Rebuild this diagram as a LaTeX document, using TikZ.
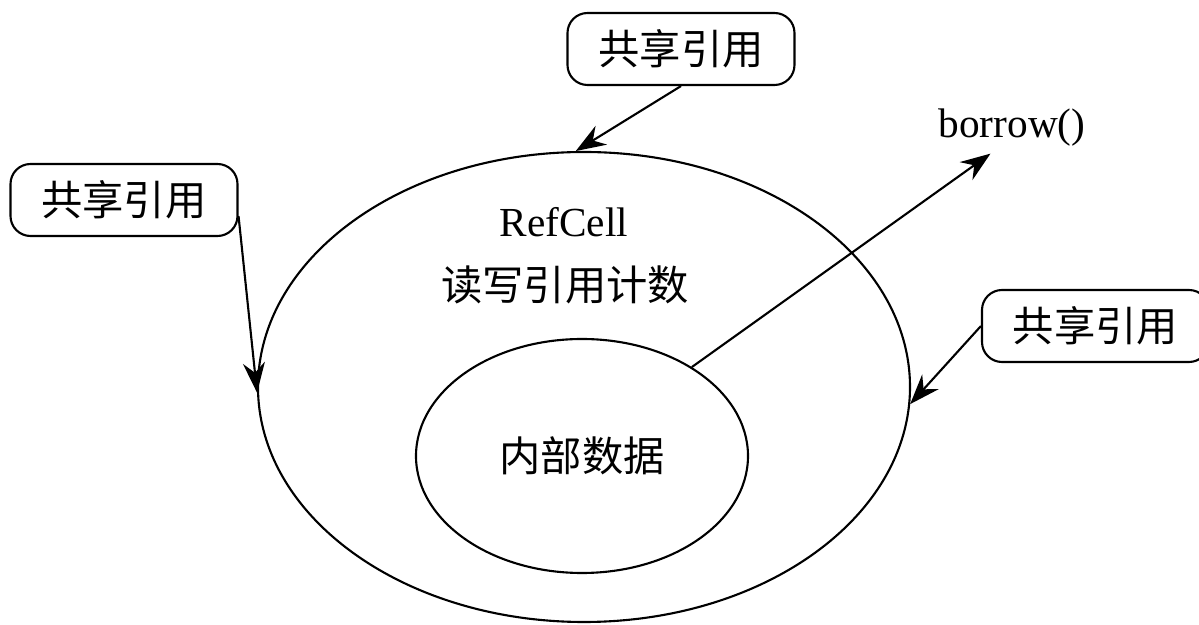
\documentclass[tikz,border=0pt]{standalone}
\usepackage{fontspec}
\setmainfont{Liberation Serif}
\newfontfamily\cjk{Noto Sans CJK SC}
\usetikzlibrary{arrows.meta,shapes.geometric}

\begin{document}
\begin{tikzpicture}[line width=1.2pt, font=\fontsize{23.5}{28}\selectfont,
    refbox/.style={draw, rounded corners=0.4cm, minimum width=4.54cm, minimum height=1.44cm, font=\fontsize{23.5}{28}\selectfont\cjk},
    ptr/.style={-{Stealth[length=0.6cm, width=0.44cm, inset=0.2cm]}}]
      \useasboundingbox (0,0) rectangle (23.98,12.5);
      \node[draw, ellipse, minimum width=13.04cm, minimum height=9.4cm] (cell) at (11.68, 4.76) {};
      \node[draw, ellipse, minimum width=6.64cm, minimum height=4.68cm, font=\fontsize{23.5}{28}\selectfont\cjk] (data) at (11.64, 3.38) {内部数据};
      \node (rc) at (11.28, 8.06) {RefCell};
      \node[font=\fontsize{23.5}{28}\selectfont\cjk] (cnt) at (11.30, 6.80) {读写引用计数};
      \node[refbox] (top) at (13.62, 11.52) {共享引用};
      \node[refbox] (left) at (2.48, 8.5) {共享引用};
      \node[refbox] (right) at (21.91, 5.98) {共享引用};
      \node (borrow) at (20.24, 9.94) {borrow()};
      \draw[ptr] (top.south) -- (cell.92);
      \draw[ptr] (left.-8) -- (cell.181);
      \draw[ptr] (right.west) -- (cell.-3);
      \draw[ptr] (data.39) -- (borrow.-130);
\end{tikzpicture}
\end{document}
